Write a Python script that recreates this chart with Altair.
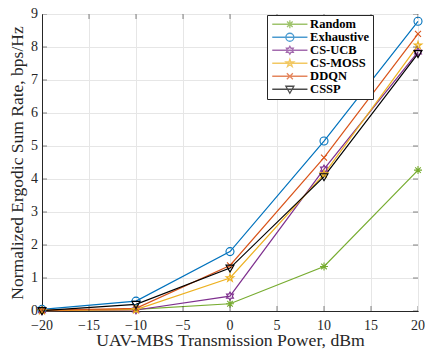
import altair as alt
import pandas as pd

power = [-20, -10, 0, 10, 20]
series = ["Random", "Exhaustive", "CS-UCB", "CS-MOSS", "DDQN", "CSSP"]
random_v = [0.02, 0.05, 0.22, 1.35, 4.27]
exhaustive_v = [0.05, 0.30, 1.80, 5.15, 8.78]
csucb_v = [0.01, 0.03, 0.45, 4.30, 7.85]
csmoss_v = [0.01, 0.04, 1.00, 4.15, 8.05]
ddqn_v = [0.02, 0.08, 1.38, 4.65, 8.40]
cssp_v = [0.01, 0.20, 1.30, 4.07, 7.80]
colors = ["#77AC30", "#0072BD", "#7E2F8E", "#EDB120", "#D95319", "#000000"]
x_ticks = [-20, -15, -10, -5, 0, 5, 10, 15, 20]
y_ticks = [0, 1, 2, 3, 4, 5, 6, 7, 8, 9]

vals = [random_v, exhaustive_v, csucb_v, csmoss_v, ddqn_v, cssp_v]
rows = []
for s, v in zip(series, vals):
    for p, y in zip(power, v):
        rows.append({"power": p, "rate": y, "series": s, "lseries": s})
df = pd.DataFrame(rows)

asterisk = "M-1,0L1,0M0,-1L0,1M-0.7,-0.7L0.7,0.7M-0.7,0.7L0.7,-0.7"
circle = "circle"
hexagram = ("M0,-1L0.289,-0.5L0.866,-0.5L0.577,0L0.866,0.5L0.289,0.5L0,1"
            "L-0.289,0.5L-0.866,0.5L-0.577,0L-0.866,-0.5L-0.289,-0.5Z")
pentagram = ("M0,-1L0.225,-0.309L0.951,-0.309L0.363,0.118L0.588,0.809L0,0.382"
             "L-0.588,0.809L-0.363,0.118L-0.951,-0.309L-0.225,-0.309Z")
xcross = "M-0.75,-0.75L0.75,0.75M-0.75,0.75L0.75,-0.75"
tridown = "M-1,-0.75L1,-0.75L0,1Z"
shapes = [asterisk, circle, hexagram, pentagram, xcross, tridown]

circle_path = "M1,0A1,1 0 1,1 -1,0A1,1 0 1,1 1,0Z"
legend_shapes = []
for sh in shapes:
    mk = circle_path if sh == "circle" else sh
    legend_shapes.append("M-4.4,0L4.4,0" + mk)

font = "Liberation Serif"
tc = "#262626"
W, H = 376, 297

xs = alt.Scale(domain=[-20, 20], nice=False)
ys = alt.Scale(domain=[0, 9], nice=False)

base = alt.Chart(df)

xaxis = alt.Axis(values=x_ticks, title="UAV-MBS Transmission Power, dBm",
                 titleFontSize=17.7, labels=False, titleY=20, titleBaseline="top",
                 tickSize=0, grid=True, gridColor="#e6e6e6",
                 domainColor=tc, titleColor=tc,
                 titleFont=font, titleFontWeight="normal")
yaxis = alt.Axis(values=y_ticks, title="Normalized Ergodic Sum Rate, bps/Hz",
                 titleFontSize=17.5, labels=False, titleX=-25, titleBaseline="middle",
                 tickSize=0, grid=True, gridColor="#e6e6e6",
                 domainColor=tc, titleColor=tc,
                 titleFont=font, titleFontWeight="normal")

lines = base.mark_line(strokeWidth=1.2).encode(
    x=alt.X("power:Q", scale=xs, axis=xaxis),
    y=alt.Y("rate:Q", scale=ys, axis=yaxis),
    color=alt.Color("series:N", scale=alt.Scale(domain=series, range=colors), legend=None),
    detail="series:N",
)

points = base.mark_point(filled=False, strokeWidth=1.1, size=64, opacity=1).encode(
    x=alt.X("power:Q", scale=xs, axis=xaxis),
    y=alt.Y("rate:Q", scale=ys, axis=yaxis),
    color=alt.Color("series:N", scale=alt.Scale(domain=series, range=colors), legend=None),
    shape=alt.Shape("series:N", scale=alt.Scale(domain=series, range=shapes), legend=None),
)

leg = alt.Legend(title=None, orient="none", legendX=225, legendY=1,
                 labelFont=font, labelFontSize=12.5,
                 labelFontWeight="bold", labelColor="#000000",
                 symbolSize=64, symbolStrokeWidth=1.3, symbolOffset=13.6,
                 labelOffset=14, rowPadding=-4.9,
                 strokeColor="#262626", fillColor="white",
                 padding=3, labelLimit=200)

legend_layer = base.transform_filter("false").mark_point(filled=False, strokeWidth=1.3).encode(
    x=alt.X("power:Q", scale=xs, axis=xaxis),
    y=alt.Y("rate:Q", scale=ys, axis=yaxis),
    color=alt.Color("lseries:N", scale=alt.Scale(domain=series, range=colors), legend=leg),
    shape=alt.Shape("lseries:N", scale=alt.Scale(domain=series, range=legend_shapes), legend=leg),
)

tdf_x = pd.DataFrame({"t": x_ticks})
tdf_y = pd.DataFrame({"t": y_ticks})
xt_bottom = alt.Chart(tdf_x).mark_tick(clip=True, size=10, orient="vertical",
                                       color=tc, thickness=0.8).encode(
    x=alt.X("t:Q", scale=xs, axis=xaxis), y=alt.value(H))
xt_top = alt.Chart(tdf_x).mark_tick(clip=True, size=10, orient="vertical",
                                    color=tc, thickness=0.8).encode(
    x=alt.X("t:Q", scale=xs, axis=xaxis), y=alt.value(0))
yt_left = alt.Chart(tdf_y).mark_tick(clip=True, size=10, orient="horizontal",
                                     color=tc, thickness=0.8).encode(
    y=alt.Y("t:Q", scale=ys, axis=yaxis), x=alt.value(0))
yt_right = alt.Chart(tdf_y).mark_tick(clip=True, size=10, orient="horizontal",
                                      color=tc, thickness=0.8).encode(
    y=alt.Y("t:Q", scale=ys, axis=yaxis), x=alt.value(W))

xlab = alt.Chart(tdf_x).mark_text(font=font, fontSize=14, color=tc,
                                  align="center", baseline="middle").encode(
    x=alt.X("t:Q", scale=xs, axis=xaxis), y=alt.value(H + 15), text="t:Q")
ylab = alt.Chart(tdf_y).mark_text(font=font, fontSize=14, color=tc,
                                  align="right", baseline="middle").encode(
    y=alt.Y("t:Q", scale=ys, axis=yaxis), x=alt.value(-4), text="t:Q")

chart = alt.layer(lines, points, xt_bottom, xt_top, yt_left, yt_right, xlab, ylab,
                  legend_layer).resolve_scale(
    shape="independent", color="independent"
).properties(
    width=W, height=H,
    autosize=alt.AutoSizeParams(type="none"),
    padding={"left": 34, "top": 6, "right": 7, "bottom": 43},
    background="white",
).configure(font=font).configure_view(stroke=tc, strokeWidth=1).configure_axis(
    titleFont=font
)

chart.save("out.html", embed_options={"renderer": "svg", "actions": False})
